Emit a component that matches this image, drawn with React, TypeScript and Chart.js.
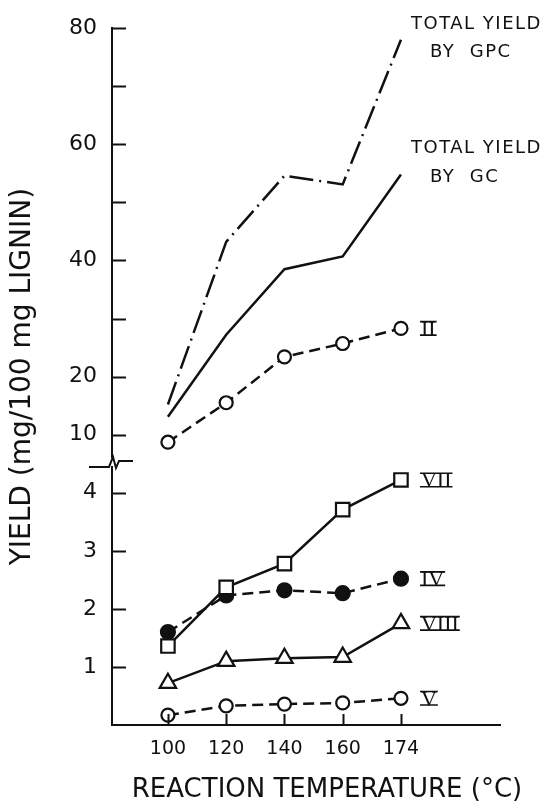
import React, { useEffect, useRef } from 'react';
import { Chart, registerables } from 'chart.js';

Chart.register(...registerables);

// ---- data ----
const temperatures = ['100', '120', '140', '160', '174'];
const totalYieldGPC = [15.2, 43.2, 54.6, 53.1, 78.0];
const totalYieldGC = [13.1, 27.2, 38.5, 40.7, 54.8];
const yieldII = [8.7, 15.5, 23.4, 25.7, 28.3];
const yieldVII = [1.36, 2.37, 2.78, 3.71, 4.22];
const yieldIV = [1.6, 2.23, 2.32, 2.27, 2.52];
const yieldVIII = [0.72, 1.1, 1.15, 1.17, 1.75];
const yieldV = [0.17, 0.33, 0.36, 0.38, 0.46];
const lowerTicks = [1, 2, 3, 4];
const upperTicks = [10, 20, 30, 40, 50, 60, 70, 80];
const upperTickLabels = [10, 20, 40, 60, 80];

const INK = '#111';
const SANS = "'DejaVu Sans', sans-serif";
const SERIF = "'Liberation Serif', 'DejaVu Serif', serif";

// broken axis: upper segment is compressed 10:1 and stacked above 4
const toUpper = (v: number) => 4 + v / 10;
const BREAK_AT = 4.53;

type Series = {
  key: string;
  values: number[];
  upper: boolean;
  dash: number[];
  style: string | false;
  radius: number;
  filled: boolean;
  tag?: string;
};

const seriesList: Series[] = [
  { key: 'GPC', values: totalYieldGPC, upper: true, dash: [24, 6, 2, 6], style: false, radius: 0, filled: false },
  { key: 'GC', values: totalYieldGC, upper: true, dash: [], style: false, radius: 0, filled: false },
  { key: 'II', values: yieldII, upper: true, dash: [11, 6], style: 'circle', radius: 6.5, filled: false, tag: 'II' },
  { key: 'VII', values: yieldVII, upper: false, dash: [], style: 'rect', radius: 9.5, filled: false, tag: 'VII' },
  { key: 'IV', values: yieldIV, upper: false, dash: [11, 6], style: 'circle', radius: 7, filled: true, tag: 'IV' },
  { key: 'VIII', values: yieldVIII, upper: false, dash: [], style: 'triangle', radius: 9.5, filled: false, tag: 'VIII' },
  { key: 'V', values: yieldV, upper: false, dash: [11, 6], style: 'circle', radius: 6.5, filled: false, tag: 'V' },
];

const decorPlugin = {
  id: 'decor',
  afterDraw(chart: any) {
    const ctx: CanvasRenderingContext2D = chart.ctx;
    const xs = chart.scales.x;
    const ys = chart.scales.y;
    const area = chart.chartArea;
    ctx.save();
    ctx.strokeStyle = INK;
    ctx.fillStyle = INK;
    ctx.lineWidth = 2;
    ctx.setLineDash([]);

    // inward tick marks
    ys.ticks.forEach((t: any) => {
      const y = Math.round(ys.getPixelForValue(t.value)) + 0.5;
      ctx.beginPath();
      ctx.moveTo(area.left, y);
      ctx.lineTo(area.left + 14, y);
      ctx.stroke();
    });
    xs.ticks.forEach((t: any) => {
      const x = Math.round(xs.getPixelForValue(t.value)) + 0.5;
      ctx.beginPath();
      ctx.moveTo(x, area.bottom);
      ctx.lineTo(x, area.bottom - 11);
      ctx.stroke();
    });

    // axis break zigzag
    const by = ys.getPixelForValue(BREAK_AT);
    const bx = area.left;
    ctx.fillStyle = '#fff';
    ctx.fillRect(bx - 3, by - 4, 6, 8);
    ctx.fillStyle = INK;
    ctx.beginPath();
    ctx.moveTo(bx - 23, by + 5);
    ctx.lineTo(bx - 3, by + 5);
    ctx.lineTo(bx + 1, by - 5);
    ctx.lineTo(bx + 4, by + 6);
    ctx.lineTo(bx + 7, by - 1);
    ctx.lineTo(bx + 21, by - 1);
    ctx.stroke();

    // roman numeral tags next to the last point
    seriesList.forEach((s) => {
      if (!s.tag) return;
      const last = s.values.length - 1;
      const v = s.upper ? toUpper(s.values[last]) : s.values[last];
      const px = xs.getPixelForValue(last) + 20;
      const py = ys.getPixelForValue(v);
      ctx.font = `22px ${SERIF}`;
      ctx.textAlign = 'left';
      ctx.textBaseline = 'alphabetic';
      const capH = 14.5;
      const base = py + capH / 2;
      ctx.fillText(s.tag, px, base);
      const w = ctx.measureText(s.tag).width;
      ctx.lineWidth = 1.6;
      ctx.beginPath();
      ctx.moveTo(px - 1, base - 0.5);
      ctx.lineTo(px + w + 1, base - 0.5);
      ctx.moveTo(px - 1, base - capH + 0.5);
      ctx.lineTo(px + w + 1, base - capH + 0.5);
      ctx.stroke();
    });

    // total-yield annotations
    ctx.font = `18px ${SANS}`;
    (ctx as any).letterSpacing = '1.5px';
    ctx.textAlign = 'left';
    ctx.textBaseline = 'alphabetic';
    ctx.fillText('TOTAL YIELD', 411, 29);
    ctx.fillText('BY  GPC', 430, 57);
    ctx.fillText('TOTAL YIELD', 411, 153);
    ctx.fillText('BY  GC', 430, 182);
    (ctx as any).letterSpacing = '0px';

    // x-axis title
    ctx.font = `26px ${SANS}`;
    ctx.textAlign = 'center';
    ctx.fillText('REACTION TEMPERATURE (°C)', 327, 797);
    ctx.restore();
  },
};

export default function App() {
  const ref = useRef<HTMLCanvasElement | null>(null);

  useEffect(() => {
    if (!ref.current) return;
    const datasets = seriesList.map((s) => ({
      label: s.key,
      data: s.values.map((v, i) => ({ x: i, y: s.upper ? toUpper(v) : v })),
      borderColor: INK,
      borderWidth: 2.5,
      borderDash: s.dash,
      pointStyle: s.style as any,
      pointRadius: s.radius,
      pointBorderWidth: 2.2,
      pointBorderColor: INK,
      pointBackgroundColor: s.filled ? INK : '#fff',
      showLine: true,
      fill: false,
      tension: 0,
      clip: false as any,
    }));

    const chart = new Chart(ref.current, {
      type: 'line',
      data: { datasets },
      options: {
        animation: false,
        responsive: false,
        devicePixelRatio: 1,
        layout: { padding: { top: 24, right: 48, left: 0, bottom: 0 } },
        plugins: { legend: { display: false }, tooltip: { enabled: false } },
        scales: {
          x: {
            type: 'linear',
            min: -0.96,
            max: 5.7,
            grid: { display: false, drawTicks: false },
            border: { display: true, color: INK, width: 2 },
            afterBuildTicks: (scale: any) => {
              scale.ticks = temperatures.map((_, i) => ({ value: i }));
            },
            afterFit: (scale: any) => {
              scale.height = 81;
            },
            ticks: {
              autoSkip: false,
              maxRotation: 0,
              padding: 13,
              color: INK,
              font: { family: SANS, size: 19 },
              callback: (value: any) => temperatures[Math.round(Number(value))] ?? '',
            },
          },
          y: {
            type: 'linear',
            min: 0,
            max: 12,
            grid: { display: false, drawTicks: false },
            border: { display: true, color: INK, width: 2 },
            afterBuildTicks: (scale: any) => {
              scale.ticks = [...lowerTicks, ...upperTicks.map(toUpper)].map((v) => ({ value: v }));
            },
            afterFit: (scale: any) => {
              scale.width = 112;
            },
            ticks: {
              autoSkip: false,
              padding: 15,
              color: INK,
              font: { family: SANS, size: 22 },
              callback: (value: any) => {
                const v = Number(value);
                if (v <= 4.5) return String(v);
                const real = Math.round((v - 4) * 10);
                return upperTickLabels.includes(real) ? String(real) : '';
              },
            },
            title: {
              display: true,
              text: 'YIELD (mg/100 mg LIGNIN)',
              color: INK,
              font: { family: SANS, size: 28 },
              padding: { top: 6, bottom: 0 },
            },
          },
        },
      },
      plugins: [decorPlugin],
    });
    return () => chart.destroy();
  }, []);

  return (
    <div style={{ position: 'fixed', left: 0, top: 0, width: 548, height: 806, background: '#fff' }}>
      <canvas ref={ref} width={548} height={806} style={{ display: 'block' }} />
    </div>
  );
}
